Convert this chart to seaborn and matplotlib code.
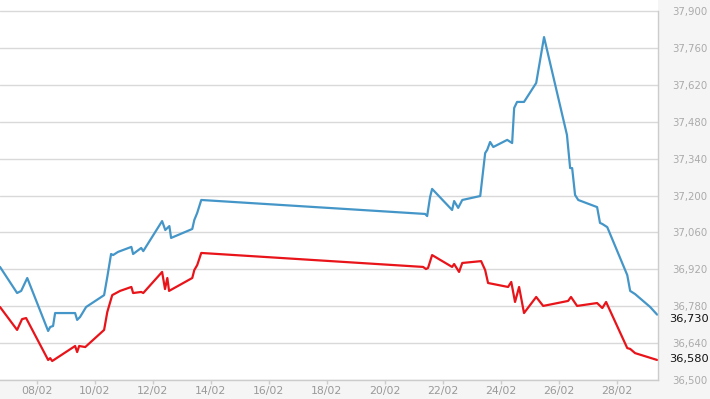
import matplotlib
matplotlib.use("Agg")
import matplotlib.pyplot as plt
import seaborn as sns
import pandas as pd
from matplotlib.ticker import FuncFormatter, FixedLocator

# day of February (fractional) and values
blue_days = [6.73, 7.32, 7.46, 7.67, 8.39, 8.46, 8.56, 8.63, 9.32, 9.39, 9.49, 9.70,
             10.32, 10.43, 10.56, 10.63, 10.80, 11.26, 11.32, 11.60, 11.67, 12.32,
             12.43, 12.57, 12.63, 13.36, 13.43, 13.53, 13.67, 21.39, 21.46, 21.56,
             21.63, 22.32, 22.39, 22.53, 22.67, 23.29, 23.46, 23.53, 23.63, 23.74,
             24.22, 24.39, 24.46, 24.56, 24.80, 25.22, 25.49, 26.28, 26.39, 26.46,
             26.56, 26.67, 27.32, 27.42, 27.50, 27.67, 28.36, 28.46, 28.63, 29.15, 29.39]
blue_vals = [36929, 36830, 36838, 36887, 36686, 36701, 36705, 36754, 36754, 36728, 36739, 36777,
             36822, 36891, 36978, 36974, 36986, 37005, 36978, 37001, 36989, 37103,
             37069, 37084, 37039, 37073, 37107, 37134, 37183, 37130, 37122, 37194,
             37225, 37145, 37179, 37153, 37183, 37198, 37361, 37373, 37403, 37384,
             37411, 37399, 37532, 37555, 37555, 37627, 37801, 37430, 37304, 37304,
             37202, 37183, 37156, 37096, 37092, 37080, 36898, 36838, 36826, 36777, 36748]

red_days = [6.73, 7.32, 7.49, 7.63, 8.39, 8.46, 8.53, 9.32, 9.39, 9.46, 9.67,
            10.32, 10.43, 10.60, 10.87, 11.26, 11.32, 11.60, 11.67, 12.32, 12.42,
            12.50, 12.56, 13.36, 13.43, 13.53, 13.67, 21.32, 21.42, 21.49, 21.63,
            22.32, 22.39, 22.56, 22.67, 23.32, 23.46, 23.56, 24.25, 24.36, 24.49,
            24.63, 24.80, 25.22, 25.46, 26.32, 26.42, 26.63, 27.32, 27.50, 27.63,
            28.36, 28.46, 28.63, 29.39]
red_vals = [36777, 36690, 36731, 36735, 36576, 36583, 36572, 36629, 36606, 36629, 36625,
            36690, 36758, 36822, 36838, 36853, 36830, 36834, 36830, 36910, 36845,
            36887, 36838, 36887, 36917, 36936, 36982, 36929, 36921, 36925, 36974,
            36929, 36940, 36910, 36944, 36951, 36917, 36868, 36853, 36872, 36796,
            36853, 36754, 36815, 36781, 36800, 36815, 36781, 36792, 36773, 36796,
            36621, 36618, 36602, 36576]

x_tick_days = [8, 10, 12, 14, 16, 18, 20, 22, 24, 26, 28]
x_tick_labels = ["08/02", "10/02", "12/02", "14/02", "16/02", "18/02",
                 "20/02", "22/02", "24/02", "26/02", "28/02"]
y_ticks = [36500, 36640, 36780, 36920, 37060, 37200, 37340, 37480, 37620, 37760, 37900]
last_labels = [36730, 36580]

df = pd.concat([
    pd.DataFrame({"day": blue_days, "value": blue_vals, "series": "blue"}),
    pd.DataFrame({"day": red_days, "value": red_vals, "series": "red"}),
])

sns.set_theme(style="white")
plt.rcParams['font.family'] = ['DejaVu Sans']

fig = plt.figure(figsize=(7.1, 3.99), dpi=100, facecolor="#f5f5f5")
# axes spans from the bottom axis line up to the top of the image
ax = fig.add_axes([0.0, 19 / 399, 658 / 710, 380 / 399])
ax.set_facecolor("white")

sns.lineplot(data=df, x="day", y="value", hue="series", estimator=None, sort=False,
             palette={"blue": "#4596c8", "red": "#e8141a"}, linewidth=1.6,
             legend=False, ax=ax)

y_lo, y_hi = 36500, 37900
ax.set_xlim(6.73, 29.42)
ax.set_ylim(y_lo, y_hi + (y_hi - y_lo) * 11 / 369)
ax.set_xlabel("")
ax.set_ylabel("")

ax.yaxis.set_major_locator(FixedLocator(y_ticks))
ax.yaxis.tick_right()
ax.yaxis.set_major_formatter(FuncFormatter(lambda v, p: f"{int(round(v)):,}"))
ax.tick_params(axis="y", length=0, pad=10, labelsize=7.3, labelcolor="#aaaaaa")
ax.grid(axis="y", color="#d9d9d9", linewidth=1)
ax.grid(axis="x", visible=False)

ax.set_xticks(x_tick_days)
ax.set_xticklabels(x_tick_labels)
ax.tick_params(axis="x", length=3, width=1, color="#cccccc", pad=1.5,
               labelsize=7.8, labelcolor="#999999", bottom=True)

for side in ["left", "top"]:
    ax.spines[side].set_visible(False)
for side in ["right", "bottom"]:
    ax.spines[side].set_visible(True)
    ax.spines[side].set_color("#cccccc")
    ax.spines[side].set_linewidth(1)
ax.spines["right"].set_bounds(y_lo, y_hi)

for v in last_labels:
    ax.annotate(f"{v:,}", xy=(1.0, v), xycoords=("axes fraction", "data"),
                xytext=(8, 0), textcoords="offset points", ha="left", va="center",
                fontsize=8.2, color="#111111", annotation_clip=False)

fig.savefig("out.png", dpi=100, facecolor=fig.get_facecolor())
